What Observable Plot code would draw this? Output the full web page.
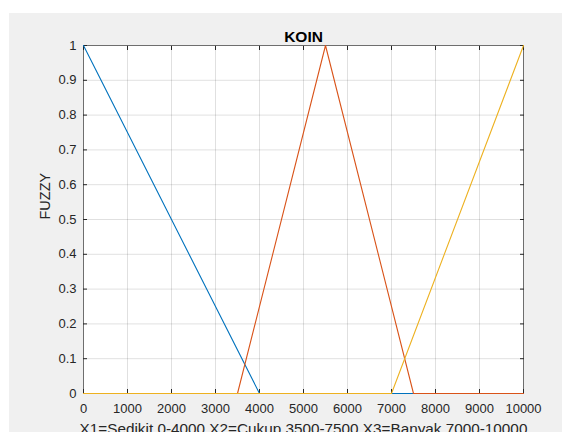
<!DOCTYPE html>
<html>
<head>
<meta charset="utf-8">
<script src="https://cdn.jsdelivr.net/npm/d3@7"></script>
<script src="https://cdn.jsdelivr.net/npm/@observablehq/plot@0.6"></script>
<style>
  body { margin: 0; background: #fff; }
  #wrap { position: relative; width: 562px; height: 432px; overflow: hidden; background: #fff; }
  #bg { position: absolute; left: 9px; top: 13px; right: 0; bottom: 0; background: #f0f0f0; }
  #chart { position: absolute; left: 0; top: 0; }
</style>
</head>
<body>
<div id="wrap"><div id="bg"></div><div id="chart"></div></div>
<script>
const titleText = "KOIN";
const xLabel = "X1=Sedikit 0-4000 X2=Cukup 3500-7500 X3=Banyak 7000-10000";
const yLabel = "FUZZY";
const xTicks = [0, 1000, 2000, 3000, 4000, 5000, 6000, 7000, 8000, 9000, 10000];
const yTicks = [0, 0.1, 0.2, 0.3, 0.4, 0.5, 0.6, 0.7, 0.8, 0.9, 1];
const seriesNames = ["Sedikit", "Cukup", "Banyak"];
const seriesColors = ["#0072BD", "#D95319", "#EDB120"];
const sedikitX = [0, 4000, 10000];
const sedikitY = [1, 0, 0];
const cukupX = [0, 3500, 5500, 7500, 10000];
const cukupY = [0, 0, 1, 0, 0];
const banyakX = [0, 7000, 10000];
const banyakY = [0, 0, 1];

const toRows = (name, xs, ys) => xs.map((x, i) => ({series: name, x, y: ys[i]}));
const sedikit = toRows("Sedikit", sedikitX, sedikitY);
const cukup = toRows("Cukup", cukupX, cukupY);
const banyak = toRows("Banyak", banyakX, banyakY);

const chart = Plot.plot({
  width: 562,
  height: 432,
  marginLeft: 83,
  marginRight: 39,
  marginTop: 45,
  marginBottom: 39,
  style: {background: "transparent", fontFamily: "'Liberation Sans', Arial, sans-serif", fontSize: "13px", color: "#262626", overflow: "visible"},
  x: {domain: [0, 10000]},
  y: {domain: [0, 1]},
  color: {domain: seriesNames, range: seriesColors},
  marks: [
    Plot.frame({fill: "white"}),
    Plot.gridX(xTicks, {stroke: "#000", strokeOpacity: 0.12}),
    Plot.gridY(yTicks, {stroke: "#000", strokeOpacity: 0.12}),
    Plot.frame({stroke: "#262626", strokeOpacity: 0.6}),
    Plot.axisX(xTicks, {anchor: "bottom", tickSize: -4, tickPadding: 14, tickFormat: d3.format("d"), label: null, stroke: "#262626"}),
    Plot.axisX(xTicks, {anchor: "top", tickSize: -4, tickFormat: () => "", label: null, stroke: "#262626"}),
    Plot.axisY(yTicks, {anchor: "left", tickSize: -4, tickPadding: 11, tickFormat: d => String(d), label: null, stroke: "#262626"}),
    Plot.axisY(yTicks, {anchor: "right", tickSize: -4, tickFormat: () => "", label: null, stroke: "#262626"}),
    Plot.line(sedikit, {x: "x", y: "y", stroke: "series", strokeWidth: 1.1}),
    Plot.line(cukup, {x: "x", y: "y", stroke: "series", strokeWidth: 1.1}),
    Plot.line(banyak, {x: "x", y: "y", stroke: "series", strokeWidth: 1.1}),
    Plot.text([titleText], {frameAnchor: "top", dy: -15, text: d => d, fontWeight: "bold", fontSize: 15.5, fill: "#000"}),
    Plot.text([xLabel], {frameAnchor: "bottom", dy: 40, text: d => d, fontSize: 15.3, fill: "#262626"}),
    Plot.text([yLabel], {frameAnchor: "left", dx: -38, rotate: -90, text: d => d, fontSize: 14.5, fill: "#262626"})
  ]
});
document.getElementById("chart").appendChild(chart);
</script>
</body>
</html>
